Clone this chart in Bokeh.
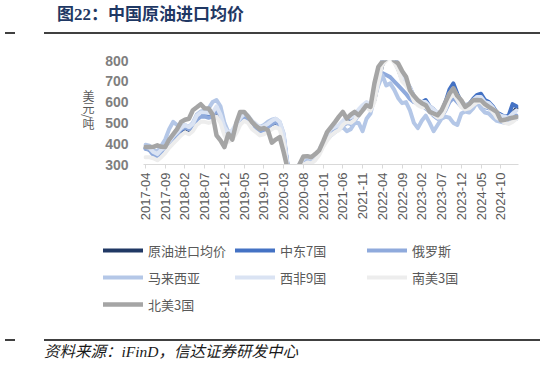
from math import pi
from bokeh.plotting import figure
from bokeh.layouts import column, row
from bokeh.models import (Div, Range1d, FixedTicker, Legend, LegendItem)
from bokeh.embed import file_html
from bokeh.resources import INLINE

# ---------------- data (USD / ton), monthly 2017-04 .. 2025-02 ----------------
tick_labels = ["2017-04", "2017-09", "2018-02", "2018-07", "2018-12", "2019-05",
               "2019-10", "2020-03", "2020-08", "2021-01", "2021-06", "2021-11",
               "2022-04", "2022-09", "2023-02", "2023-07", "2023-12", "2024-05",
               "2024-10"]

avg_price = [378, 372, 350, 338, 360, 375, 395, 420, 440, 460, 475, 465, 480, 520, 535, 535,
             530, 530, 560, 520, 470, 440, 450, 480, 510, 530, 520, 495, 480, 465, 470, 480,
             495, 500, 490, 430, 290, 240, 250, 290, 320, 330, 320, 335, 360, 400, 430, 460,
             470, 480, 500, 520, 515, 530, 555, 575, 590, 575, 610, 700, 780, 810, 830, 800,
             760, 710, 690, 660, 620, 600, 590, 595, 575, 560, 540, 545, 580, 630, 655, 620,
             585, 575, 580, 600, 615, 620, 595, 590, 570, 540, 530, 525, 520, 545, 570]

middle_east7 = [380, 375, 352, 340, 362, 378, 400, 425, 445, 465, 480, 470, 485, 525, 540, 540,
                538, 540, 570, 530, 470, 440, 455, 485, 515, 535, 525, 500, 485, 470, 478, 490,
                505, 515, 495, 440, 290, 230, 245, 290, 320, 330, 318, 333, 360, 400, 435, 465,
                472, 482, 505, 525, 520, 535, 560, 580, 595, 580, 620, 720, 800, 830, 850, 820,
                780, 725, 700, 670, 625, 605, 598, 610, 580, 565, 545, 555, 600, 660, 690, 640,
                600, 585, 590, 615, 635, 640, 610, 600, 580, 550, 540, 530, 535, 590, 580]

russia = [375, 370, 345, 335, 355, 370, 390, 415, 445, 470, 480, 470, 480, 515, 530, 530,
          525, 530, 565, 530, 470, 440, 445, 475, 505, 525, 515, 490, 475, 460, 465, 478,
          495, 505, 485, 420, 300, 245, 250, 285, 315, 325, 315, 330, 355, 395, 425, 450,
          460, 470, 485, 500, 495, 510, 540, 565, 575, 565, 640, 720, 740, 730, 720, 700,
          680, 660, 640, 615, 600, 595, 585, 570, 555, 535, 520, 530, 560, 600, 620, 600,
          580, 565, 575, 590, 600, 590, 575, 570, 560, 540, 520, 515, 510, 520, 535]

malaysia = [395, 390, 370, 360, 390, 420, 470, 505, 490, 480, 490, 480, 500, 540, 555, 560,
            570, 600, 610, 580, 500, 455, 460, 490, 520, 545, 530, 505, 490, 480, 490, 505,
            515, 520, 505, 450, 300, 250, 260, 300, 325, 330, 320, 330, 360, 390, 420, 440,
            455, 470, 480, 460, 470, 500, 500, 460, 520, 545, 620, 680, 730, 680, 690, 660,
            620, 595, 600, 560, 500, 475, 510, 535, 500, 460, 490, 520, 530, 525, 500, 490,
            545, 555, 550, 570, 600, 570, 550, 545, 525, 510, 505, 500, 505, 520, 520]

west_africa9 = [385, 380, 360, 350, 370, 385, 410, 435, 455, 475, 490, 480, 495, 535, 550, 550,
                548, 550, 580, 540, 480, 450, 465, 495, 525, 545, 535, 510, 495, 478, 485, 495,
                510, 520, 505, 445, 290, 235, 250, 295, 330, 340, 330, 345, 370, 410, 445, 470,
                480, 490, 510, 530, 525, 540, 565, 585, 600, 585, 625, 720, 800, 830, 850, 815,
                775, 725, 705, 670, 630, 610, 600, 600, 580, 565, 550, 555, 590, 640, 665, 630,
                595, 585, 590, 610, 625, 625, 600, 595, 575, 545, 535, 530, 525, 545, 560]

south_america3 = [335, 335, 330, 320, 335, 355, 380, 400, 420, 440, 455, 445, 460, 490, 505, 505,
                  500, 505, 530, 500, 440, 410, 420, 450, 490, 510, 500, 470, 455, 440, 445, 455,
                  470, 480, 470, 400, 270, 220, 235, 270, 300, 310, 305, 320, 345, 385, 415, 440,
                  455, 465, 490, 505, 500, 515, 540, 560, 575, 560, 600, 700, 780, 800, 815, 790,
                  755, 700, 680, 650, 605, 585, 575, 575, 555, 540, 525, 530, 565, 615, 640, 610,
                  575, 565, 570, 585, 600, 600, 580, 575, 555, 525, 515, 500, 495, 505, 520]

north_america3 = [384, 384, 385, 392, 385, 384, 420, 445, 470, 504, 515, 520, 561, 575, 590, 570,
                  569, 540, 440, 416, 384, 448, 420, 500, 553, 553, 530, 504, 485, 470, 475, 465,
                  405, 420, 432, 360, 280, 230, 240, 300, 339, 340, 335, 350, 368, 410, 456, 480,
                  504, 530, 553, 521, 540, 553, 537, 560, 585, 577, 690, 770, 795, 810, 830, 800,
                  786, 750, 722, 657, 630, 609, 595, 585, 553, 545, 537, 560, 601, 640, 666, 630,
                  609, 577, 590, 609, 610, 609, 590, 577, 565, 553, 512, 515, 521, 525, 528]

series_names = ["原油进口均价", "中东7国", "俄罗斯", "马来西亚", "西非9国", "南美3国", "北美3国"]
series_values = [avg_price, middle_east7, russia, malaysia, west_africa9, south_america3, north_america3]
series_colors = ["#203864", "#4472c4", "#8faadc", "#b4c7e7", "#dae3f3", "#ededed", "#a5a5a5"]
series_widths = [4, 4, 4, 4, 4, 4, 4.5]

y_ticks = [300, 400, 500, 600, 700, 800]
y_title = "美元/吨"

n = len(avg_price)
x = list(range(n))

YT_W = 100  # width of the y-title strip left of the chart

# ---------------- chart figure ----------------
p = figure(width=554 - YT_W, height=197, output_backend="svg", toolbar_location=None,
           x_range=Range1d(-0.5, n - 0.5), y_range=Range1d(300, 800),
           min_border_left=143 - YT_W, min_border_right=36, min_border_top=25, min_border_bottom=68)
p.outline_line_color = None
p.grid.visible = False
p.background_fill_color = "white"
p.border_fill_color = "white"

for vals, col, w in zip(series_values, series_colors, series_widths):
    p.line(x, vals, line_color=col, line_width=w, line_join="round", line_cap="round")

# y axis
p.yaxis.ticker = FixedTicker(ticks=y_ticks)
p.yaxis.axis_line_color = None
p.yaxis.major_tick_line_color = None
p.yaxis.minor_tick_line_color = None
p.yaxis.major_tick_out = 0
p.yaxis.major_tick_in = 0
p.yaxis.major_label_standoff = 15
p.yaxis.major_label_text_font = "Liberation Sans"
p.yaxis.major_label_text_font_size = "14px"
p.yaxis.major_label_text_font_style = "bold"
p.yaxis.major_label_text_color = "#7f7f7f"

# x axis
tick_pos = list(range(0, 5 * len(tick_labels), 5))
p.xaxis.ticker = FixedTicker(ticks=tick_pos)
p.xaxis.major_label_overrides = {t: lab for t, lab in zip(tick_pos, tick_labels)}
p.xaxis.major_label_orientation = pi / 2
p.xaxis.axis_line_color = "#d9d9d9"
p.xaxis.major_tick_line_color = "#d9d9d9"
p.xaxis.minor_tick_line_color = None
p.xaxis.major_tick_in = 0
p.xaxis.major_tick_out = 4
p.xaxis.major_label_standoff = 4
p.xaxis.major_label_text_font = "Liberation Sans"
p.xaxis.major_label_text_font_size = "13px"
p.xaxis.major_label_text_color = "#595959"

ytitle_div = Div(width=YT_W, height=197, margin=(0, 0, 0, 0), text=f"""
<div style="position:relative;width:{YT_W}px;height:197px;">
 <div style="position:absolute;left:82px;top:55px;writing-mode:vertical-rl;font-family:'Noto Sans CJK SC';font-size:12px;line-height:12px;color:#595959;">{y_title}</div>
</div>""")

# ---------------- legend figure (series lie outside its ranges; only the legend shows) ----------------
lg = figure(width=554, height=103, output_backend="svg", toolbar_location=None,
            x_range=Range1d(-1000, -999), y_range=Range1d(0, 1),
            min_border_left=0, min_border_right=0, min_border_top=0, min_border_bottom=0)
lg.outline_line_color = None
lg.axis.visible = False
lg.grid.visible = False
for fig in (p, lg):
    try:
        fig.frame_align = False
    except Exception:
        pass
items = []
for nm, vals, col, w in zip(series_names, series_values, series_colors, series_widths):
    r = lg.line(x, vals, line_color=col, line_width=w, line_cap="round")
    items.append(LegendItem(label=nm, renderers=[r]))
legend = Legend(items=items, ncols=3, orientation="horizontal", location=(103, 19),
                glyph_width=40, glyph_height=24, label_height=24, label_width=84,
                label_standoff=5, spacing=3, padding=0, margin=0,
                border_line_color=None, background_fill_alpha=0,
                label_text_font="Noto Sans CJK SC", label_text_font_size="13px",
                label_text_color="#595959")
lg.add_layout(legend, "center")

title_div = Div(width=554, height=35, margin=(0, 0, 0, 0), text="""
<div style="position:relative;width:554px;height:35px;">
 <div style="position:absolute;left:57px;top:5px;font-family:'Liberation Serif','Noto Sans CJK SC';font-weight:bold;font-size:17px;line-height:20px;color:#1f3864;white-space:nowrap;">图22：中国原油进口均价</div>
 <div style="position:absolute;left:5px;top:32px;width:10px;height:2px;background:#404040;"></div>
 <div style="position:absolute;left:44px;top:32px;width:496px;height:2px;background:#404040;"></div>
</div>""")

source_div = Div(width=554, height=30, margin=(0, 0, 0, 0), text="""
<div style="position:relative;width:554px;height:30px;">
 <div style="position:absolute;left:5px;top:4px;width:10px;height:2px;background:#404040;"></div>
 <div style="position:absolute;left:44px;top:4px;width:496px;height:2px;background:#404040;"></div>
 <div style="position:absolute;left:44px;top:8px;font-family:'Liberation Serif','Noto Sans CJK SC';font-style:italic;font-size:15.5px;line-height:18px;color:#1a1a1a;white-space:nowrap;">资料来源：iFinD，信达证券研发中心</div>
</div>""")

layout = column(title_div, row(ytitle_div, p, spacing=0), lg, source_div, spacing=0)
open("out.html", "w").write(file_html(layout, INLINE))
